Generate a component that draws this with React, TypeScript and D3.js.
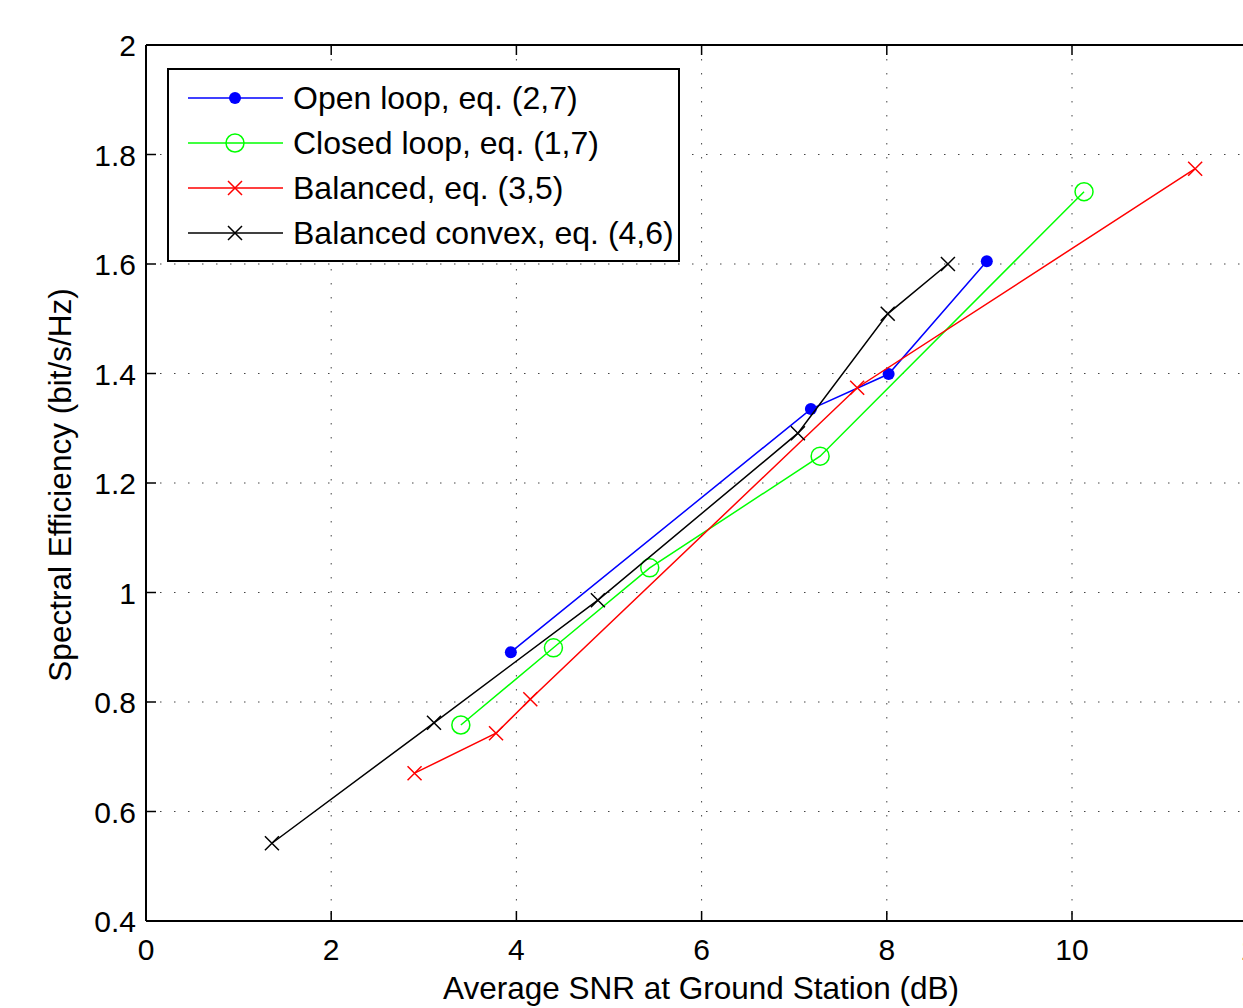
import React from 'react';
import * as d3 from 'd3';

const xTicks = [0, 2, 4, 6, 8, 10, 12];
const yTicks = [0.4, 0.6, 0.8, 1, 1.2, 1.4, 1.6, 1.8, 2];

const openLoopX = [3.94, 7.18, 8.02, 9.08];
const openLoopY = [0.891, 1.335, 1.399, 1.605];
const closedLoopX = [3.4, 4.4, 5.44, 7.28, 10.13];
const closedLoopY = [0.758, 0.899, 1.045, 1.249, 1.732];
const balancedX = [2.9, 3.78, 4.15, 7.68, 11.33];
const balancedY = [0.67, 0.743, 0.805, 1.374, 1.774];
const convexX = [1.36, 3.11, 4.88, 7.04, 8.01, 8.66];
const convexY = [0.542, 0.762, 0.986, 1.291, 1.509, 1.6];

const seriesNames = [
  'Open loop, eq. (2,7)',
  'Closed loop, eq. (1,7)',
  'Balanced, eq. (3,5)',
  'Balanced convex, eq. (4,6)',
];

const W = 1243;
const H = 1008;
const left = 146;
const top = 45;
const bottom = 921;
const font = '"Liberation Sans", Arial, Helvetica, sans-serif';

const x = d3.scaleLinear().domain([0, 12]).range([left, left + 92.6 * 12]);
const y = d3.scaleLinear().domain([0.4, 2]).range([bottom, top]);
const right = x(12);

type Marker = 'dot' | 'circle' | 'cross';

const series = [
  { name: seriesNames[0], xs: openLoopX, ys: openLoopY, color: '#0000ff', marker: 'dot' as Marker },
  { name: seriesNames[1], xs: closedLoopX, ys: closedLoopY, color: '#00ff00', marker: 'circle' as Marker },
  { name: seriesNames[2], xs: balancedX, ys: balancedY, color: '#ff0000', marker: 'cross' as Marker },
  { name: seriesNames[3], xs: convexX, ys: convexY, color: '#000000', marker: 'cross' as Marker },
];

function MarkerShape({ cx, cy, type, color }: { cx: number; cy: number; type: Marker; color: string }) {
  if (type === 'dot') return <circle cx={cx} cy={cy} r={6} fill={color} />;
  if (type === 'circle') return <circle cx={cx} cy={cy} r={9} fill="none" stroke={color} strokeWidth={1.5} />;
  const s = 7;
  return (
    <path
      d={`M${cx - s},${cy - s}L${cx + s},${cy + s}M${cx - s},${cy + s}L${cx + s},${cy - s}`}
      stroke={color}
      strokeWidth={1.5}
      fill="none"
    />
  );
}

export default function App() {
  const line = d3.line<[number, number]>().x((d) => x(d[0])).y((d) => y(d[1]));

  return (
    <div style={{ position: 'fixed', left: 0, top: 0, width: W, height: H, overflow: 'hidden', background: '#fff' }}>
      <svg width={1300} height={H} style={{ display: 'block' }} fontFamily={font}>
        <rect x={0} y={0} width={1300} height={H} fill="#fff" />
        {/* grid */}
        {xTicks.slice(1).map((t) => (
          <line key={'gx' + t} x1={x(t)} x2={x(t)} y1={top} y2={bottom} stroke="#444" strokeWidth={1} strokeDasharray="1.5,12.5" />
        ))}
        {yTicks.slice(1).map((t) => (
          <line key={'gy' + t} x1={left} x2={right} y1={y(t)} y2={y(t)} stroke="#444" strokeWidth={1} strokeDasharray="1.5,12.5" />
        ))}

        {/* series */}
        {series.map((s) => {
          const pts = s.xs.map((v, i) => [v, s.ys[i]] as [number, number]);
          return (
            <g key={s.name}>
              <path d={line(pts) || ''} fill="none" stroke={s.color} strokeWidth={1.5} />
              {pts.map((p, i) => (
                <MarkerShape key={i} cx={x(p[0])} cy={y(p[1])} type={s.marker} color={s.color} />
              ))}
            </g>
          );
        })}

        {/* axes box */}
        <line x1={left} x2={left} y1={top} y2={bottom} stroke="#000" strokeWidth={2} />
        <line x1={left} x2={right} y1={bottom} y2={bottom} stroke="#000" strokeWidth={2} />
        <line x1={left} x2={right} y1={top} y2={top} stroke="#000" strokeWidth={2} />
        {xTicks.map((t) => (
          <g key={'tx' + t}>
            <line x1={x(t)} x2={x(t)} y1={bottom} y2={bottom - 10} stroke="#000" strokeWidth={1.5} />
            <line x1={x(t)} x2={x(t)} y1={top} y2={top + 10} stroke="#000" strokeWidth={1.5} />
            <text x={x(t)} y={960} textAnchor="middle" fontSize={30}>
              {d3.format('~g')(t)}
            </text>
          </g>
        ))}
        {yTicks.map((t) => (
          <g key={'ty' + t}>
            <line x1={left} x2={left + 10} y1={y(t)} y2={y(t)} stroke="#000" strokeWidth={1.5} />
            <text x={136} y={y(t) + 11} textAnchor="end" fontSize={30}>
              {d3.format('~g')(t)}
            </text>
          </g>
        ))}

        {/* axis labels */}
        <text x={701} y={999} textAnchor="middle" fontSize={31.5}>
          Average SNR at Ground Station (dB)
        </text>
        <text transform={`translate(71,485) rotate(-90)`} textAnchor="middle" fontSize={31.5}>
          Spectral Efficiency (bit/s/Hz)
        </text>

        {/* legend */}
        <rect x={168} y={69} width={511} height={192} fill="#fff" stroke="#000" strokeWidth={2} />
        {series.map((s, i) => {
          const ly = 98 + i * 45;
          return (
            <g key={'lg' + i}>
              <line x1={188} x2={283} y1={ly} y2={ly} stroke={s.color} strokeWidth={1.5} />
              <MarkerShape cx={235} cy={ly} type={s.marker} color={s.color} />
              <text x={293} y={ly + 11} fontSize={32}>
                {s.name}
              </text>
            </g>
          );
        })}
      </svg>
    </div>
  );
}
